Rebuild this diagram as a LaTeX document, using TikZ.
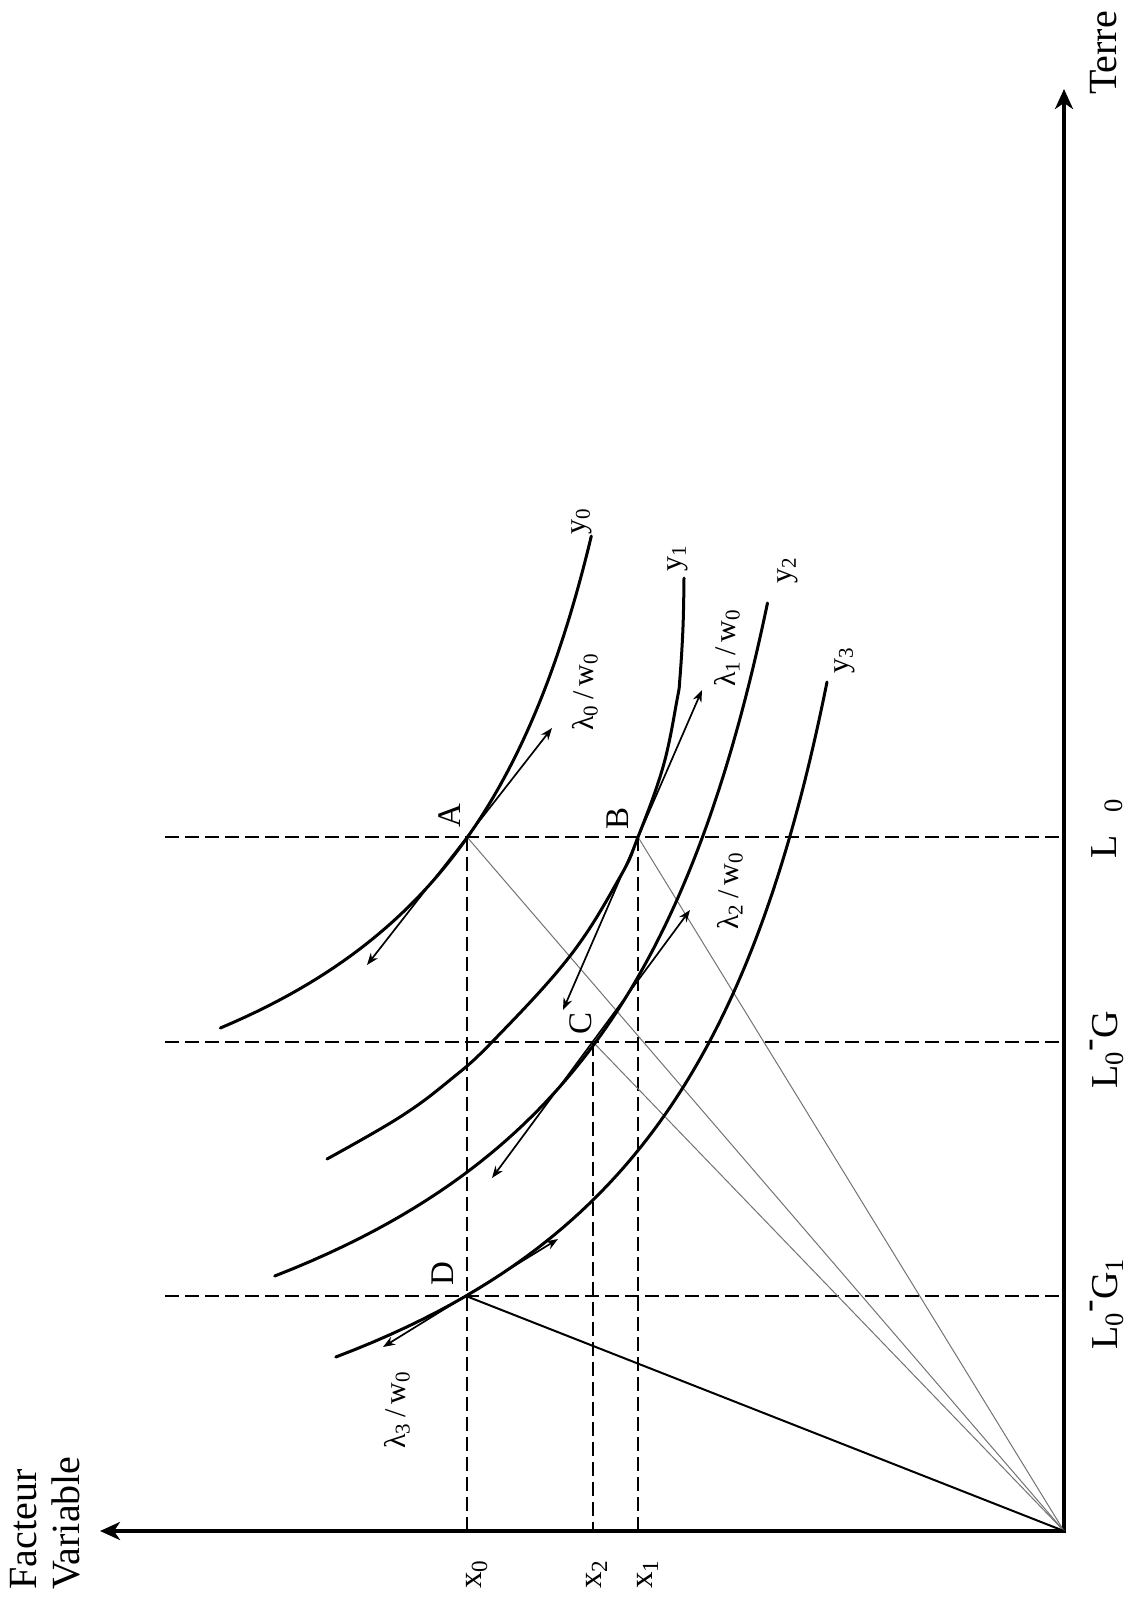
\documentclass[tikz,border=0pt]{standalone}
\usepackage{fontspec}
\setmainfont{Liberation Serif}
\usetikzlibrary{arrows.meta}
\newcommand\myhyph{\raisebox{0.45em}{-}}
\begin{document}
\begin{tikzpicture}[x=0.5pt,y=-0.5pt,
  axisline/.style={line width=2.2pt,{Stealth[length=10pt,width=9pt,inset=3pt]}-{Stealth[length=10pt,width=9pt,inset=3pt]}},
  isoq/.style={line width=1.5pt,line cap=round},
  dashln/.style={line width=0.7pt,dash pattern=on 7pt off 3pt},
  rayln/.style={line width=0.5pt,black!55},
  rayD/.style={line width=1pt},
  tang/.style={line width=0.85pt,{Stealth[length=6pt,width=4.5pt]}-{Stealth[length=6pt,width=4.5pt]}},
  rot/.style={rotate=90,inner sep=0pt},
  big/.style={rot,font=\fontsize{20}{21.5}\selectfont},
  llab/.style={rot,font=\fontsize{19}{21}\selectfont},
  mid/.style={rot,font=\fontsize{16.5}{18}\selectfont},
  small/.style={rot,font=\fontsize{15}{17}\selectfont},
]
\useasboundingbox (0,0) rectangle (1136,1601);

% axes
\coordinate (O) at (1064,1531);
\coordinate (Ttip) at (1064,89);
\coordinate (Ftip) at (100,1531);
\draw[axisline] (Ftip) -- (O) -- (Ttip);

% points
\coordinate (A) at (467,837);
\coordinate (B) at (638,837);
\coordinate (C) at (593,1042);
\coordinate (D) at (466,1296);

% dashed guide lines
\coordinate (L0) at (1064,837);
\coordinate (LG) at (1064,1042);
\coordinate (LG1) at (1064,1296);
\coordinate (L0e) at (165,837);
\coordinate (LGe) at (165,1042);
\coordinate (LG1e) at (165,1296);
\coordinate (X0) at (467,1531);
\coordinate (X2) at (593,1531);
\coordinate (X1) at (638,1531);
\draw[dashln] (L0e) -- (L0);
\draw[dashln] (LGe) -- (LG);
\draw[dashln] (LG1e) -- (LG1);
\draw[dashln] (A) -- (X0);
\draw[dashln] (C) -- (X2);
\draw[dashln] (B) -- (X1);

% rays from origin
\draw[rayln] (O) -- (A);
\draw[rayln] (O) -- (B);
\draw[rayln] (O) -- (C);
\draw[rayD] (O) -- (D);

% isoquants
\draw[isoq] plot[domain=503:995,samples=90,variable=\t] ({1064-(300+124.5/(\t-274)*1000)},{1531-\t});
\draw[isoq] plot[smooth,tension=0.65] coordinates {(684,578) (683,627) (680,677) (677,700) (663,767) (638,837) (620,877) (570,956) (493,1041) (450,1080) (400,1117) (327,1159)};
\draw[isoq] plot[domain=255:928,samples=90,variable=\t] ({1064-(100+185/(\t+13.4)*1000)},{1531-\t});
\draw[isoq] plot[domain=174:849,samples=90,variable=\t] ({1064-(50+174.3/(\t+83)*1000)},{1531-\t});

% tangent price lines
\coordinate (tA1) at (367,965);
\coordinate (tA2) at (552,728);
\coordinate (tB1) at (563,1010);
\coordinate (tB2) at (702,690);
\coordinate (tC1) at (492,1178);
\coordinate (tC2) at (690,910);
\coordinate (tD1) at (383,1347);
\coordinate (tD2) at (558,1239);
\draw[tang] (tA1) -- (tA2);
\draw[tang] (tB1) -- (tB2);
\draw[tang] (tC1) -- (tC2);
\draw[tang] (tD1) -- (tD2);

% labels
\node[big] (terre) at (1104,53) {Terre};
\node[big,align=left,anchor=north west] (fv) at (10,1590) {Facteur\\Variable};
\node[llab] (lL0) at (1107,828) {L\hspace{0.6em}\textsubscript{0}};
\node[llab] (lLG) at (1107,1050) {L\textsubscript{0}\myhyph G};
\node[llab] (lLG1) at (1107,1304) {L\textsubscript{0}\myhyph G\textsubscript{1}};
\node[mid] (lx0) at (477,1574) {x\textsubscript{0}};
\node[mid] (lx2) at (597,1574) {x\textsubscript{2}};
\node[mid] (lx1) at (648,1574) {x\textsubscript{1}};
\node[mid] (lA) at (450,816) {A};
\node[mid] (lB) at (618,818) {B};
\node[mid] (lC) at (581,1023) {C};
\node[mid] (lD) at (443,1274) {D};
\node[small] (ly0) at (582,521) {y\textsubscript{0}};
\node[small] (ly1) at (678,558) {y\textsubscript{1}};
\node[small] (ly2) at (788,570) {y\textsubscript{2}};
\node[small] (ly3) at (845,660) {y\textsubscript{3}};
\node[small] (lam0) at (585,692) {λ\textsubscript{0}\,/\,w\textsubscript{0}};
\node[small] (lam1) at (727,648) {λ\textsubscript{1}\,/\,w\textsubscript{0}};
\node[small] (lam2) at (730,891) {λ\textsubscript{2}\,/\,w\textsubscript{0}};
\node[small] (lam3) at (397,1410) {λ\textsubscript{3}\,/\,w\textsubscript{0}};
\end{tikzpicture}
\end{document}
